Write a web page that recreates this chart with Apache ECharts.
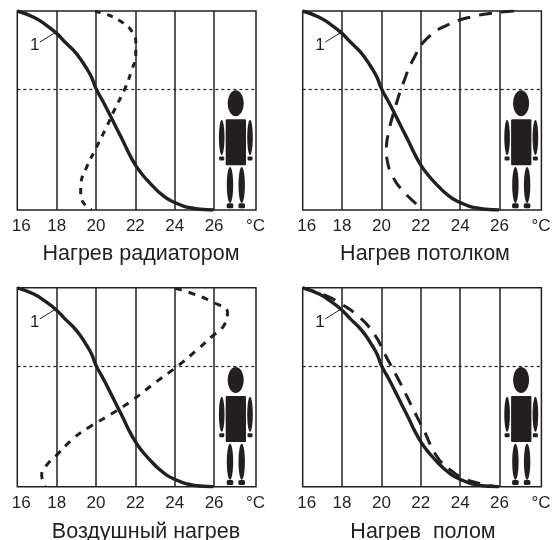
<!DOCTYPE html>
<html>
<head>
<meta charset="utf-8">
<style>
html, body { margin: 0; padding: 0; background: #fff; }
#chart { width: 554px; height: 540px; }
</style>
<script src="https://cdn.jsdelivr.net/npm/echarts@6/dist/echarts.min.js"></script>
</head>
<body>
<div id="chart"></div>
<script>
// подписи и значения
var panelTitles = ['Нагрев радиатором', 'Нагрев потолком', 'Воздушный нагрев', 'Нагрев  полом'];
var tempTicks = [16, 18, 20, 22, 24, 26];
var headLevel = 60.8;

// кривая 1 (одинаковая на всех графиках)
var curveTemp = [16, 16.81, 17.41, 17.97, 18.42, 18.85, 19.19, 19.53, 19.78, 20, 20.37, 20.71, 21.05, 21.39, 21.69, 22.03, 22.37, 22.75, 23.17, 23.59, 24.02, 24.44, 24.86, 25.29, 25.97];
var curveHeight = [100, 97, 93.3, 89, 84.4, 80.3, 76.1, 71, 66.6, 61, 54.3, 47.7, 41, 34.3, 28.1, 22.2, 17.6, 13.4, 9.2, 5.9, 3.7, 2, 1, 0.4, 0];

// штриховые кривые
var radiatorTemp = [19.95, 20.54, 21.31, 21.81, 22.02, 22.02, 21.81, 21.47, 20.97, 20.54, 19.95, 19.53, 19.24, 19.22, 19.44, 19.78];
var radiatorHeight = [99.8, 98.3, 94.5, 90, 84.4, 77.8, 70.2, 61, 51, 41.8, 30.1, 21.7, 13.4, 8.4, 2.5, 0.3];

var ceilingTemp = [26.73, 25.88, 24.78, 23.51, 22.36, 21.64, 21.1, 20.71, 20.37, 20.25, 20.29, 20.54, 20.97, 21.81];
var ceilingHeight = [100, 99.2, 97.5, 93.6, 86.6, 76.1, 63.5, 51.8, 39.3, 30.1, 25.1, 17.6, 10.9, 2.8];

var airTemp = [24.02, 24.78, 25.97, 26.68, 26.51, 25.97, 25.12, 24.1, 23, 21.9, 20.88, 19.69, 18.85, 18, 17.49, 17.24, 17.41];
var airHeight = [99.7, 97.5, 92.6, 87.6, 81.2, 76.2, 68.7, 60.3, 52.3, 43.9, 37.2, 30.2, 24.3, 15.9, 10.9, 5.9, 0.3];

var floorTemp = [16, 17.24, 17.92, 18.76, 19.61, 20.29, 20.97, 21.64, 22.15, 22.83, 23.51, 24.19, 25.03, 25.88];
var floorHeight = [100, 95.8, 92.1, 86.3, 77.1, 64.5, 51.9, 38.5, 28.5, 15.1, 8.4, 4.2, 1.7, 0];

// выноска "1"
var leaderTemp = [17.9, 17.15];
var leaderHeight = [89, 84.4];

var dashTemps = [radiatorTemp, ceilingTemp, airTemp, floorTemp];
var dashHeights = [radiatorHeight, ceilingHeight, airHeight, floorHeight];
var dashStyles = [[6, 6.5], [13, 9], [7, 7], [13, 9]];

var ink = '#231f20';
var panelLeft = [17.3, 302.7, 17.3, 302.7];
var panelTop = [11, 11, 287.8, 287.8];
var panelW = 238.7;
var panelH = 199;
var titleX = [141, 425, 146, 423];
var titleY = [243, 243, 521, 521];

function zip(xs, ys) {
    return xs.map(function (x, i) { return [x, ys[i]]; });
}

// фигура человека рисуется как значок, не как данные
function person(dx, dy) {
    function el(cx, cy, rx, ry) {
        return { type: 'ellipse', shape: { cx: cx, cy: cy, rx: rx, ry: ry }, style: { fill: ink } };
    }
    function box(x, y, w, h, r) {
        return { type: 'rect', shape: { x: x, y: y, width: w, height: h, r: r }, style: { fill: ink } };
    }
    return {
        type: 'group', x: dx, y: dy,
        children: [
            el(235.7, 103.3, 8, 13),
            box(225.7, 119.3, 20.3, 46, 1),
            el(221.7, 137.5, 2.8, 17.5),
            el(250, 137.5, 2.8, 17.5),
            box(219.2, 156.5, 5, 4, 1),
            box(247.5, 156.5, 5, 4, 1),
            el(230, 185, 3.2, 18),
            el(241.7, 185, 3.2, 18),
            box(226.7, 203.3, 6.6, 5, 1.5),
            box(238.4, 203.3, 6.6, 5, 1.5)
        ]
    };
}

var grids = [], xAxes = [], yAxes = [], series = [], titles = [], figures = [];

for (var i = 0; i < 4; i++) {
    grids.push({
        left: panelLeft[i], top: panelTop[i], width: panelW, height: panelH,
        show: true, borderColor: ink, borderWidth: 1.5, backgroundColor: 'transparent'
    });
    xAxes.push({
        type: 'value', gridIndex: i, min: 16, max: 28.13, interval: 2,
        axisLine: { show: false }, axisTick: { show: false }, splitLine: { show: false },
        axisLabel: {
            customValues: tempTicks, margin: 8, hideOverlap: false,
            color: ink, fontFamily: 'Liberation Sans', fontSize: 17,
            // "16" в оригинале сдвинуто вправо от левого края рамки
            formatter: function (v) { return v === tempTicks[0] ? '{first|' + v + '}' : '' + v; },
            rich: { first: { padding: [0, 0, 0, 8], color: ink, fontFamily: 'Liberation Sans', fontSize: 17 } }
        },
        name: '°C', nameLocation: 'end', nameGap: -10,
        nameTextStyle: { color: ink, fontFamily: 'Liberation Sans', fontSize: 17, verticalAlign: 'top', padding: [8, 0, 0, 0] }
    });
    yAxes.push({
        type: 'value', gridIndex: i, min: 0, max: 100,
        axisLine: { show: false }, axisTick: { show: false }, splitLine: { show: false }, axisLabel: { show: false }
    });
    titles.push({
        text: panelTitles[i], left: titleX[i], top: titleY[i], textAlign: 'center', padding: 0,
        textStyle: { color: ink, fontFamily: 'Liberation Sans', fontSize: 21.5, fontWeight: 'normal' }
    });
    figures.push(person(panelLeft[i] - 17.3, panelTop[i] - 11));

    series.push({
        type: 'line', xAxisIndex: i, yAxisIndex: i, data: zip(curveTemp, curveHeight),
        smooth: 0.5, showSymbol: false, silent: true, animation: false, z: 3,
        lineStyle: { color: ink, width: 3.4 },
        markLine: {
            silent: true, symbol: 'none', animation: false, label: { show: false },
            data: tempTicks.slice(1).map(function (t) {
                return { xAxis: t, lineStyle: { color: ink, width: 1.5, type: 'solid' } };
            }).concat([{ yAxis: headLevel, lineStyle: { color: ink, width: 1.2, type: [3, 3] } }])
        }
    });
    series.push({
        type: 'line', xAxisIndex: i, yAxisIndex: i, data: zip(dashTemps[i], dashHeights[i]),
        smooth: 0.5, showSymbol: false, silent: true, animation: false, z: 4,
        lineStyle: { color: ink, width: 3, type: dashStyles[i] }
    });
    series.push({
        type: 'line', xAxisIndex: i, yAxisIndex: i, data: zip(leaderTemp, leaderHeight),
        showSymbol: false, silent: true, animation: false, z: 4,
        lineStyle: { color: ink, width: 1 },
        endLabel: {
            show: true, formatter: '1', distance: 3, color: ink,
            fontFamily: 'Liberation Sans', fontSize: 17, offset: [-13, 3]
        }
    });
}

var myChart = echarts.init(document.getElementById('chart'), null, { renderer: 'canvas' });
myChart.setOption({
    backgroundColor: '#fff',
    animation: false,
    title: titles,
    grid: grids,
    xAxis: xAxes,
    yAxis: yAxes,
    series: series,
    graphic: figures
});
</script>
</body>
</html>
